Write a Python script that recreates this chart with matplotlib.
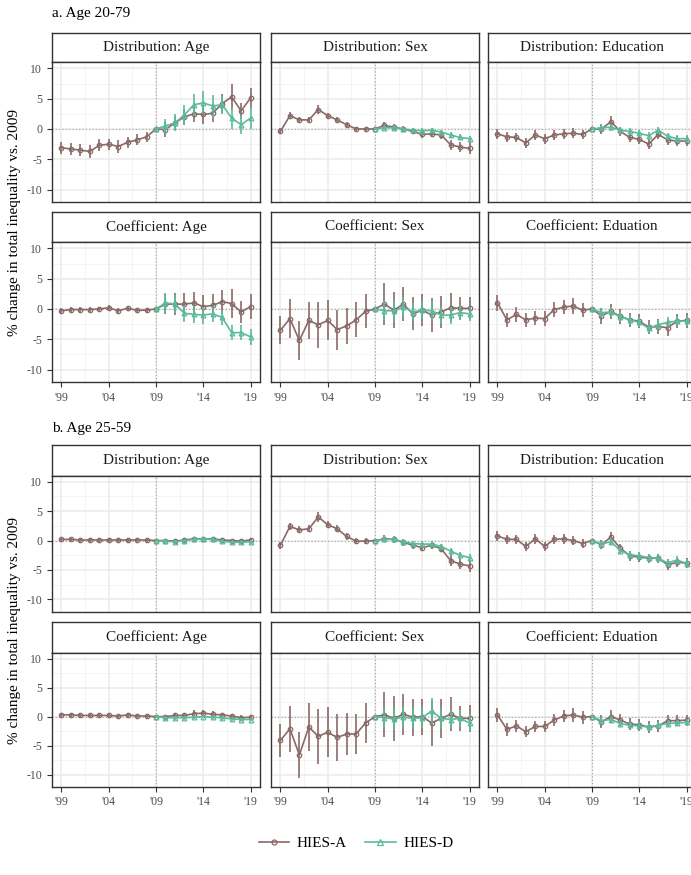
import matplotlib
matplotlib.use("Agg")
import matplotlib.pyplot as plt
from matplotlib.lines import Line2D

plt.rcParams['font.family'] = ['Liberation Serif', 'DejaVu Serif']

# ---------------------------------------------------------------
# data
# ---------------------------------------------------------------
years_a = list(range(1999, 2020))
years_d = list(range(2009, 2020))

# a. Age 20-79
a_dist_age_A = [-3.1, -3.3, -3.5, -3.7, -2.7, -2.5, -2.9, -2.2, -1.8, -1.3, 0.0,
                -0.1, 1.0, 2.0, 2.5, 2.4, 2.6, 4.2, 5.3, 3.0, 5.1]
a_dist_age_A_err = [1.0, 1.0, 1.0, 1.1, 1.0, 0.9, 1.0, 0.9, 0.9, 0.8, 0.0,
                    1.2, 1.2, 1.3, 1.4, 1.5, 1.5, 1.6, 2.2, 1.3, 1.7]
a_dist_age_D = [0.0, 0.5, 1.0, 2.3, 4.0, 4.3, 3.8, 4.0, 1.8, 0.7, 1.8]
a_dist_age_D_err = [0.3, 1.2, 1.4, 1.6, 1.8, 1.9, 1.8, 1.6, 1.8, 1.6, 1.8]

a_dist_sex_A = [-0.4, 2.2, 1.5, 1.5, 3.2, 2.2, 1.5, 0.7, 0.0, 0.0, 0.0,
                0.6, 0.3, 0.0, -0.4, -0.9, -0.8, -1.0, -2.6, -3.0, -3.2]
a_dist_sex_A_err = [0.5, 0.6, 0.5, 0.5, 0.8, 0.5, 0.5, 0.5, 0.4, 0.4, 0.0,
                    0.5, 0.5, 0.5, 0.5, 0.6, 0.6, 0.6, 0.8, 0.8, 1.0]
a_dist_sex_D = [0.0, 0.2, 0.2, 0.0, -0.2, -0.3, -0.2, -0.5, -1.0, -1.4, -1.6]
a_dist_sex_D_err = [0.2, 0.4, 0.4, 0.4, 0.4, 0.4, 0.4, 0.4, 0.5, 0.5, 0.5]

a_dist_edu_A = [-0.8, -1.3, -1.4, -2.3, -1.0, -1.6, -1.0, -0.8, -0.7, -0.9, 0.0,
                0.0, 1.2, -0.4, -1.4, -1.7, -2.5, -0.9, -1.8, -2.0, -2.0]
a_dist_edu_A_err = [0.8, 0.8, 0.8, 0.8, 0.8, 0.8, 0.8, 0.8, 0.8, 0.8, 0.0,
                    0.8, 0.9, 0.8, 0.8, 0.8, 0.8, 0.8, 0.8, 0.8, 0.8]
a_dist_edu_D = [0.0, 0.2, 0.3, -0.2, -0.4, -0.7, -1.1, -0.2, -1.2, -1.6, -1.6]
a_dist_edu_D_err = [0.2, 0.6, 0.6, 0.6, 0.6, 0.6, 0.6, 0.6, 0.6, 0.6, 0.6]

a_coef_age_A = [-0.3, -0.1, -0.1, -0.1, 0.0, 0.2, -0.3, 0.1, -0.2, -0.2, 0.0,
                0.8, 0.8, 0.8, 1.0, 0.4, 0.6, 1.2, 0.9, -0.5, 0.4]
a_coef_age_A_err = [0.4, 0.4, 0.4, 0.4, 0.4, 0.4, 0.4, 0.4, 0.4, 0.4, 0.0,
                    1.6, 1.8, 1.8, 1.8, 1.9, 1.9, 2.0, 2.4, 1.8, 2.0]
a_coef_age_D = [0.0, 1.0, 0.8, -0.7, -0.9, -1.0, -0.8, -1.4, -3.9, -3.9, -4.6]
a_coef_age_D_err = [0.3, 1.6, 1.5, 1.4, 1.4, 1.4, 1.3, 1.3, 1.3, 1.2, 1.3]

a_coef_sex_A = [-3.5, -1.6, -5.2, -1.9, -2.6, -1.9, -3.4, -2.8, -1.8, -0.4, 0.0,
                0.8, -0.2, 0.8, -0.8, -0.2, -1.0, -0.5, 0.2, 0.1, 0.1]
a_coef_sex_A_err = [2.3, 3.2, 3.2, 3.0, 3.8, 3.3, 3.3, 3.0, 2.9, 2.8, 0.0,
                    3.5, 3.0, 2.8, 2.7, 2.6, 2.8, 2.7, 2.4, 1.9, 1.8]
a_coef_sex_D = [0.0, -0.3, -0.3, 0.3, -0.5, -0.2, -0.3, -1.0, -1.0, -0.6, -0.8]
a_coef_sex_D_err = [0.3, 1.6, 1.8, 1.6, 1.5, 1.5, 1.6, 1.4, 1.4, 1.2, 1.2]

a_coef_edu_A = [1.0, -1.8, -0.9, -1.8, -1.5, -1.6, -0.1, 0.3, 0.5, -0.2, 0.0,
                -1.1, -0.4, -1.2, -1.8, -2.0, -3.0, -2.9, -3.1, -2.0, -1.9]
a_coef_edu_A_err = [1.3, 1.2, 1.2, 1.1, 1.2, 1.2, 1.2, 1.2, 1.3, 1.2, 0.0,
                    1.3, 1.3, 1.2, 1.2, 1.2, 1.2, 1.2, 1.3, 1.2, 1.2]
a_coef_edu_D = [0.0, -0.6, -0.5, -1.3, -1.8, -2.2, -3.2, -2.6, -2.2, -2.0, -2.0]
a_coef_edu_D_err = [0.3, 0.8, 0.8, 0.8, 0.8, 0.8, 0.8, 0.8, 0.8, 0.8, 0.8]

# b. Age 25-59
b_dist_age_A = [0.2, 0.2, 0.1, 0.1, 0.1, 0.1, 0.1, 0.1, 0.1, 0.1, 0.0,
                0.0, -0.1, 0.1, 0.3, 0.3, 0.3, 0.1, 0.0, -0.1, 0.1]
b_dist_age_A_err = [0.3, 0.3, 0.3, 0.3, 0.3, 0.3, 0.3, 0.3, 0.3, 0.3, 0.0,
                    0.3, 0.3, 0.3, 0.3, 0.3, 0.3, 0.3, 0.3, 0.3, 0.3]
b_dist_age_D = [0.0, -0.1, -0.2, 0.0, 0.2, 0.3, 0.2, -0.1, -0.3, -0.3, -0.2]
b_dist_age_D_err = [0.2, 0.3, 0.3, 0.3, 0.3, 0.3, 0.3, 0.3, 0.3, 0.3, 0.3]

b_dist_sex_A = [-0.8, 2.4, 1.8, 2.0, 4.0, 2.7, 2.0, 0.7, -0.1, -0.1, 0.0,
                0.3, 0.2, -0.3, -0.8, -1.2, -0.8, -1.4, -3.4, -4.0, -4.3]
b_dist_sex_A_err = [0.6, 0.6, 0.6, 0.6, 0.8, 0.6, 0.6, 0.6, 0.5, 0.5, 0.0,
                    0.6, 0.6, 0.6, 0.6, 0.6, 0.6, 0.6, 0.9, 0.9, 1.0]
b_dist_sex_D = [0.0, 0.2, 0.2, -0.2, -0.5, -0.6, -0.6, -1.0, -1.8, -2.5, -2.9]
b_dist_sex_D_err = [0.2, 0.5, 0.5, 0.5, 0.5, 0.5, 0.5, 0.5, 0.6, 0.6, 0.6]

b_dist_edu_A = [0.8, 0.2, 0.2, -1.0, 0.3, -1.0, 0.2, 0.3, 0.0, -0.5, 0.0,
                -0.7, 0.6, -1.3, -2.6, -2.8, -3.0, -3.0, -4.1, -3.7, -3.8]
b_dist_edu_A_err = [0.9, 0.8, 0.8, 0.8, 0.8, 0.8, 0.8, 0.8, 0.8, 0.8, 0.0,
                    0.8, 0.9, 0.8, 0.8, 0.8, 0.8, 0.8, 0.9, 0.8, 0.9]
b_dist_edu_D = [0.0, -0.6, -0.2, -1.7, -2.4, -2.6, -2.9, -3.0, -3.8, -3.3, -3.9]
b_dist_edu_D_err = [0.2, 0.6, 0.6, 0.6, 0.6, 0.6, 0.6, 0.6, 0.7, 0.6, 0.7]

b_coef_age_A = [0.3, 0.3, 0.2, 0.2, 0.2, 0.2, 0.1, 0.3, 0.1, 0.1, 0.0,
                0.0, 0.2, 0.2, 0.5, 0.6, 0.4, 0.3, 0.1, -0.2, -0.1]
b_coef_age_A_err = [0.3, 0.3, 0.3, 0.3, 0.3, 0.3, 0.3, 0.3, 0.3, 0.3, 0.0,
                    0.3, 0.4, 0.4, 0.6, 0.6, 0.5, 0.4, 0.4, 0.4, 0.4]
b_coef_age_D = [0.0, -0.2, -0.2, -0.2, -0.1, 0.0, -0.1, -0.2, -0.4, -0.5, -0.5]
b_coef_age_D_err = [0.2, 0.3, 0.3, 0.3, 0.3, 0.3, 0.3, 0.3, 0.3, 0.3, 0.3]

b_coef_sex_A = [-4.1, -2.1, -6.6, -1.8, -3.4, -2.7, -3.6, -3.0, -3.0, -1.1, 0.0,
                0.3, -0.3, 0.4, -0.1, 0.0, -1.1, -0.3, 0.4, -0.3, -0.3]
b_coef_sex_A_err = [2.8, 4.0, 3.9, 4.1, 4.7, 4.3, 4.1, 3.7, 3.4, 3.5, 0.0,
                    3.9, 3.9, 3.5, 3.2, 3.1, 4.0, 3.4, 2.9, 2.2, 2.3]
b_coef_sex_D = [0.0, -0.2, -0.4, -0.1, -0.3, -0.2, 1.0, -0.3, -0.5, -0.3, -1.1]
b_coef_sex_D_err = [0.3, 1.8, 1.9, 1.8, 1.8, 1.8, 2.2, 1.8, 1.6, 1.5, 1.5]

b_coef_edu_A = [0.3, -2.2, -1.6, -2.6, -1.7, -1.7, -0.6, 0.1, 0.3, -0.1, 0.0,
                -0.9, 0.0, -0.6, -1.3, -1.4, -1.8, -1.6, -0.7, -0.7, -0.6]
b_coef_edu_A_err = [1.2, 1.1, 1.1, 1.0, 1.0, 1.0, 1.1, 1.1, 1.2, 1.1, 0.0,
                    1.1, 1.1, 1.0, 1.0, 1.0, 1.0, 1.0, 1.0, 0.9, 0.9]
b_coef_edu_D = [0.0, -0.7, -0.5, -1.2, -1.5, -1.6, -1.8, -1.5, -1.2, -1.1, -1.0]
b_coef_edu_D_err = [0.2, 0.6, 0.6, 0.6, 0.6, 0.6, 0.6, 0.6, 0.6, 0.6, 0.6]

strip_titles = [["Distribution: Age", "Distribution: Sex", "Distribution: Education"],
                ["Coefficient: Age", "Coefficient: Sex", "Coefficient: Eduation"]]
group_titles = ["a. Age 20-79", "b. Age 25-59"]
series_names = ["HIES-A", "HIES-D"]
x_ticks = [1999, 2004, 2009, 2014, 2019]
x_ticklabels = ["'99", "'04", "'09", "'14", "'19"]
y_ticks = [-10, -5, 0, 5, 10]

panels = [
    [[(a_dist_age_A, a_dist_age_A_err, a_dist_age_D, a_dist_age_D_err),
      (a_dist_sex_A, a_dist_sex_A_err, a_dist_sex_D, a_dist_sex_D_err),
      (a_dist_edu_A, a_dist_edu_A_err, a_dist_edu_D, a_dist_edu_D_err)],
     [(a_coef_age_A, a_coef_age_A_err, a_coef_age_D, a_coef_age_D_err),
      (a_coef_sex_A, a_coef_sex_A_err, a_coef_sex_D, a_coef_sex_D_err),
      (a_coef_edu_A, a_coef_edu_A_err, a_coef_edu_D, a_coef_edu_D_err)]],
    [[(b_dist_age_A, b_dist_age_A_err, b_dist_age_D, b_dist_age_D_err),
      (b_dist_sex_A, b_dist_sex_A_err, b_dist_sex_D, b_dist_sex_D_err),
      (b_dist_edu_A, b_dist_edu_A_err, b_dist_edu_D, b_dist_edu_D_err)],
     [(b_coef_age_A, b_coef_age_A_err, b_coef_age_D, b_coef_age_D_err),
      (b_coef_sex_A, b_coef_sex_A_err, b_coef_sex_D, b_coef_sex_D_err),
      (b_coef_edu_A, b_coef_edu_A_err, b_coef_edu_D, b_coef_edu_D_err)]],
]

# ---------------------------------------------------------------
# style / layout (pixels)
# ---------------------------------------------------------------
W, H = 691, 875
COL_A = "#8a6a67"
COL_D = "#5cbb9c"
BORDER = "#333333"
GRID = "#ebebeb"

col_left = [52, 271, 488]
col_w = 208
# (strip top, strip height, plot height) per row, per group
rows = [[(32.5, 29.5, 140), (212, 30, 140)],
        [(445, 30.5, 136), (622, 30.5, 134)]]
group_title_y = [14, 429]
ylabel_y = [222, 631]


def px_axes(fig, left, top, w, h):
    return fig.add_axes([left / W, 1 - (top + h) / H, w / W, h / H])


def draw_panel(ax, a_vals, a_err, d_vals, d_err):
    ax.set_xlim(1998, 2020)
    ax.set_ylim(-12.05, 11.05)
    ax.set_xticks(x_ticks)
    ax.set_xticks([2001.5, 2006.5, 2011.5, 2016.5], minor=True)
    ax.set_yticks(y_ticks)
    ax.set_yticks([-7.5, -2.5, 2.5, 7.5], minor=True)
    ax.grid(which='major', color=GRID, lw=1.1)
    ax.grid(which='minor', color="#f2f2f2", lw=0.6)
    ax.set_axisbelow(True)
    ax.axhline(0, color="#a0a0a0", lw=0.8, ls=(0, (1, 2)), zorder=1)
    ax.axvline(2009, color="#a0a0a0", lw=0.8, ls=(0, (1, 2)), zorder=1)

    ax.vlines(years_a, [v - e for v, e in zip(a_vals, a_err)],
              [v + e for v, e in zip(a_vals, a_err)], color=COL_A, lw=1.2, zorder=2)
    ax.plot(years_a, a_vals, color=COL_A, lw=1.2, marker='o', ms=3.2,
            mfc='none', mew=0.9, zorder=3)
    ax.vlines(years_d, [v - e for v, e in zip(d_vals, d_err)],
              [v + e for v, e in zip(d_vals, d_err)], color=COL_D, lw=1.2, zorder=4)
    ax.plot(years_d, d_vals, color=COL_D, lw=1.2, marker='^', ms=3.4,
            mfc='none', mew=0.9, zorder=5)

    for s in ax.spines.values():
        s.set_color(BORDER)
        s.set_linewidth(1.0)
    ax.tick_params(which='both', length=0, labelsize=8.5, labelcolor="#4d4d4d")
    ax.tick_params(which='major', color=BORDER, width=0.8)


fig = plt.figure(figsize=(W / 100, H / 100), dpi=100)

for g in range(2):
    fig.text(52 / W, 1 - group_title_y[g] / H, group_titles[g], fontsize=11,
             ha='left', va='center', color='black')
    fig.text(15 / W, 1 - ylabel_y[g] / H, "% change in total inequality vs. 2009",
             fontsize=11, rotation=90, ha='center', va='center')
    for r in range(2):
        s_top, s_h, p_h = rows[g][r]
        for c in range(3):
            # strip
            sax = px_axes(fig, col_left[c], s_top, col_w, s_h)
            sax.set_xticks([])
            sax.set_yticks([])
            for s in sax.spines.values():
                s.set_color(BORDER)
                s.set_linewidth(1.0)
            sax.text(0.5, 0.5, strip_titles[r][c], fontsize=11, ha='center',
                     va='center', color="#1a1a1a", transform=sax.transAxes)

            ax = px_axes(fig, col_left[c], s_top + s_h, col_w, p_h)
            draw_panel(ax, *panels[g][r][c])
            if c == 0:
                ax.set_yticklabels([str(t) for t in y_ticks])
                ax.tick_params(axis='y', which='major', length=3.5)
            else:
                ax.set_yticklabels([])
            if r == 1:
                ax.set_xticklabels(x_ticklabels)
                ax.tick_params(axis='x', which='major', length=3.5)
            else:
                ax.set_xticklabels([])

handles = [Line2D([], [], color=COL_A, lw=1.2, marker='o', ms=3.6, mfc='none', mew=0.9),
           Line2D([], [], color=COL_D, lw=1.2, marker='^', ms=3.8, mfc='none', mew=0.9)]
fig.legend(handles, series_names, loc='center', ncol=2, frameon=False,
           bbox_to_anchor=(356 / W, 1 - 843 / H), fontsize=11,
           handlelength=2.0, columnspacing=1.2, handletextpad=0.5)

fig.savefig("out.png", dpi=100)
